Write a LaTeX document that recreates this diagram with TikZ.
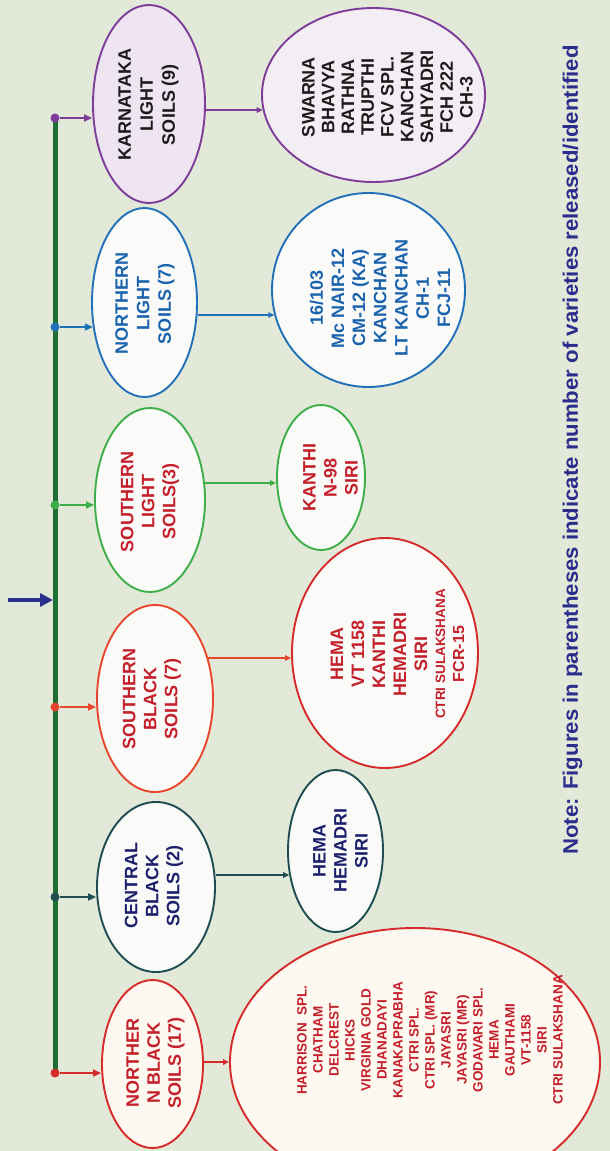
\documentclass[tikz,border=0pt]{standalone}
\usepackage{fontspec}
\setmainfont{Liberation Sans}
\usetikzlibrary{shapes.geometric,arrows.meta}
\definecolor{bgc}{HTML}{E3E9D9}
\definecolor{trunkc}{HTML}{1F6E33}
\definecolor{purp}{HTML}{7D3C98}
\definecolor{purpfill}{HTML}{EFE5F2}
\definecolor{purpfillb}{HTML}{F3EDF4}
\definecolor{bluec}{HTML}{2170B8}
\definecolor{bluetext}{HTML}{1B63AD}
\definecolor{greenc}{HTML}{3DAE49}
\definecolor{orc}{HTML}{E8472D}
\definecolor{redc}{HTML}{D52B2B}
\definecolor{redtext}{HTML}{C4202B}
\definecolor{tealc}{HTML}{1E4D52}
\definecolor{navy}{HTML}{1C1F6B}
\definecolor{blk}{HTML}{1E1A1C}
\definecolor{notec}{HTML}{2B2D8C}
\definecolor{arrowblue}{HTML}{2B3090}
\definecolor{whitefill}{HTML}{FAFBF9}
\definecolor{creamfill}{HTML}{FDF8F0}
\begin{document}
\begin{tikzpicture}[x=1pt,y=-1pt,
  oval/.style={ellipse, draw, line width=1.9pt, inner sep=0pt, fill=whitefill},
  vtext/.style={rotate=90, align=center, inner sep=0pt},
  big/.style={font=\bfseries\fontsize{18}{21}\selectfont},
  dotn/.style={circle, inner sep=0pt, minimum size=9pt},
  tap/.style={line width=1.9pt, -{Triangle[length=8pt,width=7pt]}},
  sap/.style={line width=1.6pt, -{Triangle[length=6pt,width=5.5pt]}}]
\useasboundingbox (0,0) rectangle (610,1151);
\clip (0,0) rectangle (610,1151);
\fill[bgc] (0,0) rectangle (610,1151);

% trunk
\coordinate (top) at (55,118);
\coordinate (bot) at (55,1073);
\draw[trunkc, line width=5pt] (top) -- (bot);
\coordinate (inS) at (8,600);
\coordinate (inE) at (53,600);
\draw[arrowblue, line width=3.5pt, -{Triangle[length=13pt,width=13pt]}] (inS) -- (inE);

% ellipses
\node[oval, draw=purp, fill=purpfill, minimum width=112pt, minimum height=198pt] (kls) at (149,104) {};
\node[oval, draw=purp, fill=purpfillb, minimum width=223pt, minimum height=174pt] (kv) at (373.5,95) {};
\node[oval, draw=bluec, minimum width=105pt, minimum height=189pt] (nls) at (144.5,302.5) {};
\node[oval, draw=bluec, minimum width=193pt, minimum height=194pt] (nlv) at (368.5,290) {};
\node[oval, draw=greenc, minimum width=110pt, minimum height=184pt] (sls) at (150,500) {};
\node[oval, draw=greenc, minimum width=88pt, minimum height=145pt] (slv) at (321,477.5) {};
\node[oval, draw=orc, minimum width=116pt, minimum height=187pt] (sbs) at (155,698.5) {};
\node[oval, draw=redc, minimum width=186pt, minimum height=230pt] (sbv) at (385,653) {};
\node[oval, draw=tealc, minimum width=118pt, minimum height=170pt] (cbs) at (156,887) {};
\node[oval, draw=tealc, minimum width=95pt, minimum height=162pt] (cbv) at (335.5,851) {};
\node[oval, draw=redc, fill=creamfill, minimum width=101pt, minimum height=168pt] (nbs) at (152.5,1064) {};
\node[oval, draw=redc, fill=creamfill, minimum width=370pt, minimum height=268pt] (nbv) at (415,1062) {};

% texts
\node[vtext, big, text=blk, font=\bfseries\fontsize{18}{22}\selectfont] (klsT) at (148.5,104.5) {KARNATAKA\\LIGHT\\SOILS (9)};
\node[vtext, text=blk, font=\bfseries\fontsize{18}{19.75}\selectfont] (kvT) at (387.5,97) {SWARNA\\BHAVYA\\RATHNA\\TRUPTHI\\FCV SPL.\\KANCHAN\\SAHYADRI\\FCH 222\\CH-3};
\node[vtext, text=bluetext, font=\bfseries\fontsize{18}{21.5}\selectfont] (nlsT) at (145,303.5) {NORTHERN\\LIGHT\\SOILS (7)};
\node[vtext, text=bluetext, font=\bfseries\fontsize{18}{21.2}\selectfont] (nlvT) at (380,298) {16/103\\Mc NAIR-12\\CM-12 (KA)\\KANCHAN\\LT KANCHAN\\CH-1\\FCJ-11};
\node[vtext, big, text=redtext] (slsT) at (150,501.5) {SOUTHERN\\LIGHT\\SOILS(3)};
\node[vtext, big, text=redtext] (slvT) at (330.5,477.5) {KANTHI\\N-98\\SIRI};
\node[vtext, big, text=redtext] (sbsT) at (152,698.5) {SOUTHERN\\BLACK\\SOILS (7)};
\node[vtext, big, text=redtext] (sbvT) at (397.5,654) {HEMA\\VT 1158\\KANTHI\\HEMADRI\\SIRI\\[-3pt]{\fontsize{13.5}{16}\selectfont CTRI SULAKSHANA}\\[-2pt]{\fontsize{16}{18}\selectfont FCR-15}};
\node[vtext, big, text=navy] (cbsT) at (154,885.5) {CENTRAL\\BLACK\\SOILS (2)};
\node[vtext, big, text=navy] (cbvT) at (340.5,850.5) {HEMA\\HEMADRI\\SIRI};
\node[vtext, big, text=redtext] (nbsT) at (155.5,1063) {NORTHER\\N BLACK\\SOILS (17)};
\node[vtext, text=redtext, font=\bfseries\fontsize{13.5}{16}\selectfont] (nbvT) at (430,1040) {HARRISON\ \ SPL.\\CHATHAM\\DELCREST\\HICKS\\VIRGINIA GOLD\\DHANADAYI\\KANAKAPRABHA\\CTRI SPL.\\CTRI SPL. (MR)\\JAYASRI\\JAYASRI (MR)\\GODAVARI SPL.\\HEMA\\GAUTHAMI\\VT-1158\\SIRI\\CTRI SULAKSHANA};

% dots and branch arrows
\node[dotn, fill=purp] (d1) at (55,118) {};
\node[dotn, fill=bluec] (d2) at (55,327) {};
\node[dotn, fill=greenc] (d3) at (55,505) {};
\node[dotn, fill=orc] (d4) at (55,707) {};
\node[dotn, fill=tealc] (d5) at (55,897) {};
\node[dotn, fill=redc] (d6) at (55,1073) {};
\draw[tap, purp] (d1) -- (d1 -| kls.west);
\draw[tap, bluec, shorten >=-1.8pt] (d2) -- (d2 -| nls.west);
\draw[tap, greenc] (d3) -- (d3 -| sls.west);
\draw[tap, orc] (d4) -- (d4 -| sbs.west);
\draw[tap, tealc] (d5) -- (d5 -| cbs.west);
\draw[tap, redc] (d6) -- (d6 -| nbs.west);

% soil to varieties
\draw[sap, purp, shorten >=-1.6pt] (kls.east |- 0,110) -- (kv.west |- 0,110);
\draw[sap, bluec, shorten >=-3.2pt] (nls.east |- 0,315) -- (nlv.west |- 0,315);
\draw[sap, greenc, shorten <=-0.9pt] (sls.east |- 0,483) -- (slv.west |- 0,483);
\draw[sap, orc, shorten <=-5.7pt] (sbs.east |- 0,658) -- (sbv.west |- 0,658);
\draw[sap, tealc, shorten >=-2.1pt] (cbs.east |- 0,875) -- (cbv.west |- 0,875);
\draw[sap, redc] (nbs.east |- 0,1062) -- (nbv.west |- 0,1062);

% note
\node[rotate=90, inner sep=0pt, text=notec, font=\bfseries\fontsize{21}{24}\selectfont] (note) at (572.5,450) {\scalebox{1.056}[1]{Note: Figures in parentheses indicate number of varieties released/identified}};
\end{tikzpicture}
\end{document}
